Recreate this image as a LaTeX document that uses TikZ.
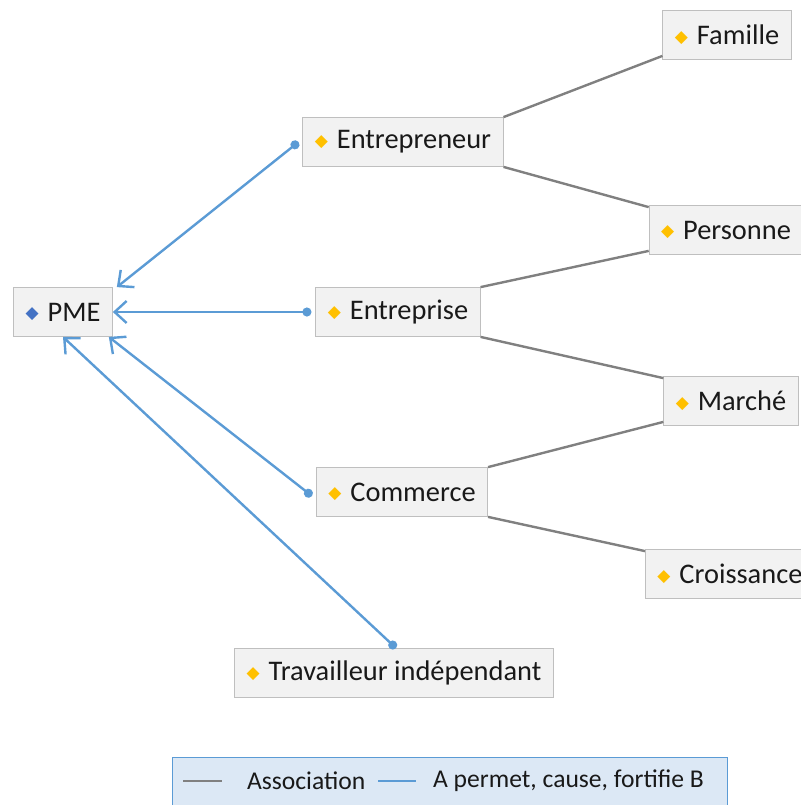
\documentclass[tikz,border=0pt]{standalone}
\usepackage{fontspec}
\setmainfont{Carlito}
\newfontfamily\symfont{DejaVu Sans}
\usetikzlibrary{arrows.meta}
\definecolor{boxfill}{HTML}{F2F2F2}
\definecolor{boxline}{HTML}{BFBFBF}
\definecolor{linkblue}{HTML}{5B9BD5}
\definecolor{linkgray}{HTML}{808080}
\definecolor{dotorange}{HTML}{FFC000}
\definecolor{dotblue}{HTML}{4472C4}
\definecolor{legfill}{HTML}{DCE8F5}
\newcommand{\dia}[1]{\raisebox{1.2pt}{\symfont\fontsize{8.5}{8.5}\selectfont\textcolor{#1}{◆}}\hspace{4.5pt}}

\begin{document}
\begin{tikzpicture}[x=0.5pt,y=-0.5pt,
  concept/.style={draw=boxline,fill=boxfill,minimum height=24.5pt,inner xsep=6pt,
    font=\fontsize{14.2}{17}\selectfont},
  assoc/.style={linkgray,line width=1.2pt},
  cause/.style={linkblue,line width=1.2pt,{Circle[length=4.5pt]}-{Straight Barb[length=6pt,width=11pt]}},
  every node/.style={text=black!90}]
\useasboundingbox (0,0) rectangle (801,805);
\node[concept] (pme) at (63,312) {\dia{dotblue}PME};
\node[concept] (entrepreneur) at (403,142) {\dia{dotorange}Entrepreneur};
\node[concept] (entreprise) at (398,312) {\dia{dotorange}Entreprise};
\node[concept] (commerce) at (402,492) {\dia{dotorange}Commerce};
\node[concept] (travailleur) at (394,673) {\dia{dotorange}Travailleur indépendant};
\node[concept] (famille) at (727,35) {\dia{dotorange}Famille};
\node[concept] (personne) at (726,230) {\dia{dotorange}Personne};
\node[concept] (marche) at (731,401) {\dia{dotorange}Marché};
\node[concept,anchor=west] (croissance) at (645,574) {\dia{dotorange}Croissance};
% associations
\draw[assoc] (entrepreneur.north east) -- ([yshift=2pt]famille.south west);
\draw[assoc] (entrepreneur.south east) -- ([yshift=-1pt]personne.north west);
\draw[assoc] (entreprise.north east) -- ([yshift=2pt]personne.south west);
\draw[assoc] (entreprise.south east) -- ([yshift=-1pt]marche.north west);
\draw[assoc] (commerce.north east) -- ([yshift=2pt]marche.south west);
\draw[assoc] (commerce.south east) -- ([yshift=-1pt]croissance.north west);
% causes
\draw[cause] ([xshift=-2pt]entrepreneur.west) -- ([xshift=2pt]pme.north east);
\draw[cause] ([xshift=-2pt]entreprise.west) -- (pme.east);
\draw[cause] ([xshift=-2pt,yshift=-2pt]commerce.west) -- ([xshift=-2pt]pme.south east);
\draw[cause] ([xshift=1pt]travailleur.north) -- (pme.south);
% legend
\node[draw=linkblue,fill=legfill,minimum width=277.5pt,minimum height=28pt,anchor=north west] (legend) at (172,757) {};
\coordinate (g1) at (183,781);
\coordinate (g2) at (222,781);
\coordinate (b1) at (378,781);
\coordinate (b2) at (416,781);
\draw[assoc] (g1) -- (g2);
\draw[linkblue,line width=1.2pt] (b1) -- (b2);
\node[anchor=west,font=\fontsize{12.8}{15}\selectfont] (lassoc) at (240,781) {Association};
\node[anchor=west,font=\fontsize{12.8}{15}\selectfont] (lcause) at (426,781) {A permet, cause, fortifie B};
\end{tikzpicture}
\end{document}
